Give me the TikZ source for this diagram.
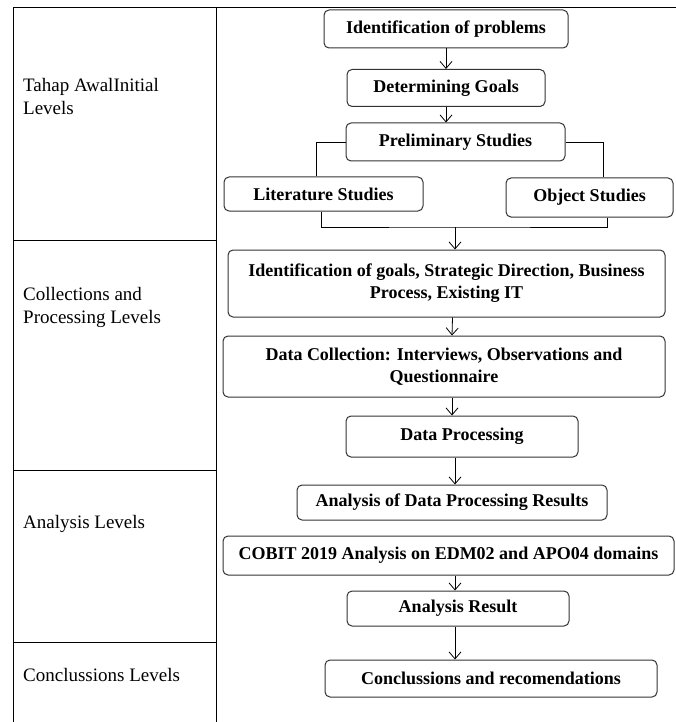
\documentclass[tikz,border=0pt]{standalone}
\usepackage{fontspec}
\setmainfont{Liberation Serif}
\usetikzlibrary{arrows.meta}
\definecolor{boxline}{HTML}{333333}

\tikzset{
  stepbox/.style = {draw = boxline, line width = 1pt, rounded corners = 5pt, align = center,
                    inner sep = 2pt, font = \fontsize{18}{22}\selectfont\bfseries},
  levellabel/.style = {anchor = west, align = left, inner sep = 0pt,
                    font = \fontsize{19}{23}\selectfont},
  arr/.style = {-{Straight Barb[length = 7pt, width = 12pt]}, line width = 0.8pt},
  link/.style = {line width = 0.8pt},
  grid/.style = {line width = 1pt}
}

\begin{document}
\begin{tikzpicture}[x = 1pt, y = -1pt]
        \useasboundingbox (0, 0) rectangle (676, 722);

        % Table
        \draw [grid] (676, 8) -- (13, 8) -- (13, 722);
        \draw [grid] (216, 8) -- (216, 722);
        \draw [grid] (13, 240) -- (216, 240);
        \draw [grid] (13, 470) -- (216, 470);
        \draw [grid] (13, 642) -- (216, 642);

        % Levels
        \node [levellabel] (lvinit) at (23, 97) {Tahap AwalInitial\\Levels};
        \node [levellabel] (lvcoll) at (23, 307) {Collections and\\Processing Levels};
        \node [levellabel] (lvanal) at (23, 524) {Analysis Levels};
        \node [levellabel] (lvconc) at (23, 675) {Conclussions Levels};

        % Steps
        \node [stepbox, minimum width = 244pt, minimum height = 38pt] (prob) at (446, 29) {Identification of problems};
        \node [stepbox, minimum width = 198pt, minimum height = 37pt] (goal) at (446, 88) {Determining Goals};
        \node [stepbox, minimum width = 219pt, minimum height = 38pt] (prelim) at (455.5, 142) {Preliminary Studies};
        \node [stepbox, minimum width = 199pt, minimum height = 34pt] (lit) at (323.5, 194) {Literature Studies};
        \node [stepbox, minimum width = 167pt, minimum height = 39pt] (obj) at (589.5, 197.5) {Object Studies};
        \node [stepbox, minimum width = 437pt, minimum height = 67pt] (ident) at (446.5, 283.5) {Identification of goals, Strategic Direction, Business\\Process, Existing IT};
        \node [stepbox, minimum width = 442pt, minimum height = 61pt] (coll) at (444, 366.5) {Data Collection: Interviews, Observations and\\Questionnaire};
        \node [stepbox, minimum width = 232pt, minimum height = 41pt] (proc) at (462, 436.5) {Data Processing};
        \node [stepbox, minimum width = 310pt, minimum height = 35pt] (anres) at (452, 502.5) {Analysis of Data Processing Results};
        \node [stepbox, minimum width = 451pt, minimum height = 39pt] (cobit) at (448.5, 555.5) {COBIT 2019 Analysis on EDM02 and APO04 domains};
        \node [stepbox, minimum width = 222pt, minimum height = 35pt] (result) at (458, 608.5) {Analysis Result};
        \node [stepbox, minimum width = 332pt, minimum height = 37pt] (concl) at (491, 678.5) {Conclussions and recomendations};

        % Links
        \coordinate (join) at (455, 227);
        \draw [arr] (prob) -- (goal);
        \draw [arr] (goal.south) -- (goal.south |- prelim.north);
        \draw [link] (prelim.west) -| ([xshift = -7pt]lit.north);
        \draw [link] (prelim.east) -| ([xshift = 14pt]obj.north);
        \draw [link] ([xshift = -2pt]lit.south) |- (join) -| ([xshift = 18pt]obj.south);
        \draw [arr] (join) -- (join |- ident.north);
        \draw [arr] ([xshift = 6pt]ident.south) -- ([xshift = 8pt]coll.north);
        \draw [arr] ([xshift = 8pt]coll.south) -- ([xshift = 8pt]coll.south |- proc.north);
        \draw [arr] ([xshift = -7pt]proc.south) -- ([xshift = -7pt]proc.south |- anres.north);
        \draw [arr] ([xshift = 6.5pt]cobit.south) -- ([xshift = 6.5pt]cobit.south |- result.north);
        \draw [arr] ([xshift = -3pt]result.south) -- ([xshift = -3pt]result.south |- concl.north);
\end{tikzpicture}
\end{document}
